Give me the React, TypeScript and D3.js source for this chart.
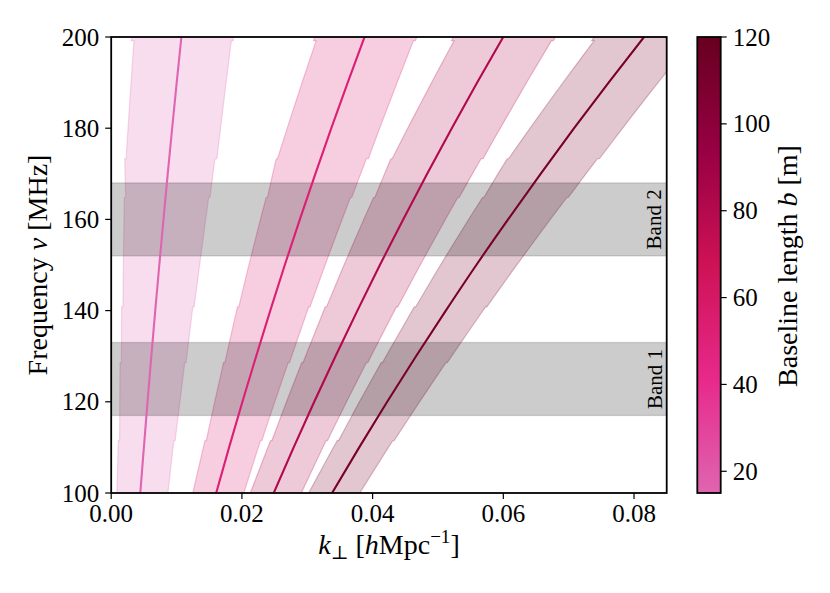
import React from 'react';
import * as d3 from 'd3';

// ---------------- data ----------------
const freqGrid = [100, 110, 120, 130, 140, 150, 160, 170, 180, 190, 200];
const baselineLengths = [14.6, 52.6, 81.3, 110.2];
const kPerpB15 = [0.00445, 0.00500, 0.00556, 0.00614, 0.00674, 0.00736, 0.00800, 0.00865, 0.00933, 0.01002, 0.01074];
const kPerpB53 = [0.01607, 0.01804, 0.02008, 0.02218, 0.02434, 0.02656, 0.02887, 0.03124, 0.03368, 0.03619, 0.03876];
const kPerpB81 = [0.02487, 0.02792, 0.03107, 0.03432, 0.03767, 0.04111, 0.04468, 0.04835, 0.05212, 0.05600, 0.05999];
const kPerpB110 = [0.03380, 0.03795, 0.04223, 0.04664, 0.05120, 0.05587, 0.06073, 0.06571, 0.07083, 0.07611, 0.08153];
const kPerpLines = [kPerpB15, kPerpB53, kPerpB81, kPerpB110];

// frequency chunks of the k-coverage bands and the half-widths (in k) below / above each line
const chunkStart = [99, 111.5, 128.6, 140.8, 164.8, 173.3, 199.2];
const chunkEnd = [111.5, 128.6, 140.8, 164.8, 173.3, 199.2, 201];
const lowOffStart = [0.00355, 0.0038, 0.0045, 0.0050, 0.0061, 0.0066, 0.0076];
const lowOffEnd = [0.0040, 0.0047, 0.0052, 0.0063, 0.0068, 0.0072, 0.0076];
const highOffStart = [0.0042, 0.0047, 0.0054, 0.0059, 0.0068, 0.0073, 0.0080];
const highOffEnd = [0.0045, 0.0052, 0.0057, 0.0066, 0.0070, 0.0077, 0.0080];

const bandLow = [117, 152];
const bandHigh = [133, 168];
const bandNames = ['Band 1', 'Band 2'];

const xTicks = [0, 0.02, 0.04, 0.06, 0.08];
const xTickLabels = ['0.00', '0.02', '0.04', '0.06', '0.08'];
const yTicks = [100, 120, 140, 160, 180, 200];
const cbTicks = [20, 40, 60, 80, 100, 120];
const cmapColors = ['#df65b0', '#e7298a', '#ce1256', '#980043', '#67001f'];
const cbDomain = [15, 120];

const FONT = "'Liberation Serif', 'DejaVu Serif', serif";

export default function App() {
  const W = 830;
  const H = 593;
  const L = 111.2, R = 666.7, T = 37, B = 493;
  const x = d3.scaleLinear().domain([0, 0.085]).range([L, R]);
  const y = d3.scaleLinear().domain([100, 200]).range([B, T]);
  const cmapDomain = d3.range(5).map((i) => cbDomain[0] + (i * (cbDomain[1] - cbDomain[0])) / 4);
  const cmap = d3
    .scaleLinear<string>()
    .domain(cmapDomain)
    .range(cmapColors)
    .interpolate(d3.interpolateRgb)
    .clamp(true);
  const cbX0 = 697.3, cbX1 = 720.7;
  const cbY = d3.scaleLinear().domain(cbDomain).range([B, T]);

  const linePath = d3
    .line<number>()
    .x((d, i) => x(d))
    .y((d, i) => y(freqGrid[i]))
    .curve(d3.curveMonotoneY);

  const bandPolys = kPerpLines.map((arr) => {
    const kOf = d3.scaleLinear().domain(freqGrid).range(arr);
    const left: [number, number][] = [];
    const right: [number, number][] = [];
    chunkStart.forEach((s, j) => {
      const e = chunkEnd[j];
      const n = 6;
      for (let t = 0; t <= n; t++) {
        const nu = s + ((e - s) * t) / n;
        const lo = lowOffStart[j] + ((lowOffEnd[j] - lowOffStart[j]) * t) / n;
        const hi = highOffStart[j] + ((highOffEnd[j] - highOffStart[j]) * t) / n;
        left.push([x(kOf(nu) - lo), y(nu)]);
        right.push([x(kOf(nu) + hi), y(nu)]);
      }
    });
    return left.concat(right.reverse());
  });

  const polyPath = (pts: [number, number][]) => 'M' + pts.map((p) => p.join(',')).join('L') + 'Z';

  return (
    <svg
      width={W}
      height={H}
      style={{ position: 'absolute', left: 0, top: 0, display: 'block', background: '#fff' }}
      fontFamily={FONT}
    >
      <defs>
        <clipPath id="plotClip">
          <rect x={L} y={T} width={R - L} height={B - T} />
        </clipPath>
        <linearGradient id="cbGrad" x1="0" y1="1" x2="0" y2="0">
          {cmapDomain.map((v, i) => (
            <stop key={i} offset={(v - cbDomain[0]) / (cbDomain[1] - cbDomain[0])} stopColor={cmap(v)} />
          ))}
        </linearGradient>
      </defs>
      <rect x={0} y={0} width={W} height={H} fill="#fff" />

      <g clipPath="url(#plotClip)">
        {bandPolys.map((pts, i) => (
          <path
            key={'band' + i}
            d={polyPath(pts)}
            fill={cmap(baselineLengths[i])}
            fillOpacity={0.22}
            stroke={cmap(baselineLengths[i])}
            strokeOpacity={0.25}
            strokeWidth={1.2}
          />
        ))}
        {bandLow.map((lo, i) => (
          <rect
            key={'gb' + i}
            x={L - 5}
            width={R - L + 10}
            y={y(bandHigh[i])}
            height={y(lo) - y(bandHigh[i])}
            fill="#000"
            fillOpacity={0.2}
            stroke="#000"
            strokeOpacity={0.15}
            strokeWidth={1.3}
          />
        ))}
        {kPerpLines.map((arr, i) => (
          <path key={'ln' + i} d={linePath(arr) || ''} fill="none" stroke={cmap(baselineLengths[i])} strokeWidth={2.1} />
        ))}
      </g>

      {bandNames.map((name, i) => {
        const cy = y((bandLow[i] + bandHigh[i]) / 2);
        const bx = 661.5;
        return (
          <text
            key={'bl' + i}
            x={bx}
            y={cy}
            fontSize={21}
            textAnchor="middle"
            transform={`rotate(-90, ${bx}, ${cy})`}
            fill="#000"
          >
            {name}
          </text>
        );
      })}

      {/* axes frame */}
      <rect x={L} y={T} width={R - L} height={B - T} fill="none" stroke="#000" strokeWidth={1.8} />

      {/* x ticks */}
      {xTicks.map((t, i) => (
        <g key={'xt' + i}>
          <line x1={x(t)} x2={x(t)} y1={B} y2={B + 6} stroke="#000" strokeWidth={1.2} />
          <text x={x(t)} y={B + 29} fontSize={25} textAnchor="middle">
            {xTickLabels[i]}
          </text>
        </g>
      ))}
      {/* y ticks */}
      {yTicks.map((t, i) => (
        <g key={'yt' + i}>
          <line x1={L - 6} x2={L} y1={y(t)} y2={y(t)} stroke="#000" strokeWidth={1.2} />
          <text x={L - 12} y={y(t) + 8.5} fontSize={25} textAnchor="end">
            {String(t)}
          </text>
        </g>
      ))}

      {/* axis labels */}
      <text x={(L + R) / 2} y={554} fontSize={28} textAnchor="middle">
        <tspan fontStyle="italic">k</tspan>
        <tspan fontSize={19} dy={5}>⊥</tspan>
        <tspan dy={-5}> [</tspan>
        <tspan fontStyle="italic">h</tspan>
        <tspan>Mpc</tspan>
        <tspan fontSize={19} dy={-11}>−1</tspan>
        <tspan dy={11}>]</tspan>
      </text>
      <text x={47} y={265} fontSize={28} textAnchor="middle" transform="rotate(-90, 47, 265)">
        <tspan>Frequency </tspan>
        <tspan fontStyle="italic">ν</tspan>
        <tspan> [MHz]</tspan>
      </text>

      {/* colorbar */}
      <rect x={cbX0} y={T} width={cbX1 - cbX0} height={B - T} fill="url(#cbGrad)" stroke="#000" strokeWidth={1.8} />
      {cbTicks.map((t, i) => (
        <g key={'cb' + i}>
          <line x1={cbX1} x2={cbX1 + 6} y1={cbY(t)} y2={cbY(t)} stroke="#000" strokeWidth={1.2} />
          <text x={cbX1 + 12} y={cbY(t) + 8.5} fontSize={25} textAnchor="start">
            {String(t)}
          </text>
        </g>
      ))}
      <text x={797} y={266} fontSize={28} textAnchor="middle" transform="rotate(-90, 797, 266)">
        <tspan>Baseline length </tspan>
        <tspan fontStyle="italic">b</tspan>
        <tspan> [m]</tspan>
      </text>
    </svg>
  );
}
